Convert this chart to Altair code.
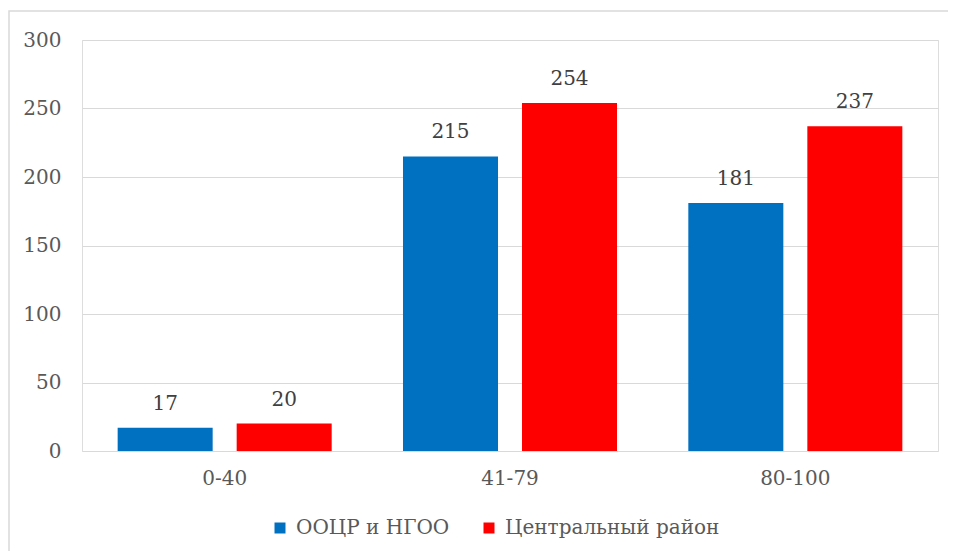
import altair as alt
import pandas as pd

categories = ["0-40", "41-79", "80-100"]
series_names = ["ООЦР и НГОО", "Центральный район"]
series_a = [17, 215, 181]
series_b = [20, 254, 237]
colors = ["#0070C0", "#FF0000"]
y_ticks = [0, 50, 100, 150, 200, 250, 300]

rows = []
for c, a, b in zip(categories, series_a, series_b):
    rows.append({"cat": c, "series": series_names[0], "value": a})
    rows.append({"cat": c, "series": series_names[1], "value": b})
df = pd.DataFrame(rows)

FONT = "DejaVu Serif"
FS = 20

x = alt.X("cat:N", sort=categories, title=None,
          scale=alt.Scale(paddingInner=0, paddingOuter=0),
          axis=alt.Axis(labelAngle=0, labelFont=FONT, labelFontSize=FS,
                        labelColor="#595959", ticks=False, domain=False,
                        labelPadding=17))
xo = alt.XOffset("series:N", sort=series_names,
                 scale=alt.Scale(paddingInner=0.2017, paddingOuter=0.2996))
y = alt.Y("value:Q", title=None,
          scale=alt.Scale(domain=[0, 300], nice=False),
          axis=alt.Axis(values=y_ticks, labelFont=FONT, labelFontSize=FS,
                        labelColor="#595959", ticks=False, domain=False,
                        gridColor="#D9D9D9", gridWidth=1, labelPadding=21))
color = alt.Color("series:N", sort=series_names,
                  scale=alt.Scale(domain=series_names, range=colors),
                  legend=alt.Legend(title=None, orient="none", direction="horizontal",
                                    legendX=188, legendY=478,
                                    symbolType="square", symbolSize=121,
                                    symbolStrokeWidth=0,
                                    labelFont=FONT, labelFontSize=FS,
                                    labelColor="#595959", labelOffset=6,
                                    labelLimit=0,
                                    columnPadding=29, symbolOpacity=1))

base = alt.Chart(df)
bars = base.mark_bar().encode(x=x, xOffset=xo, y=y, color=color)
labels = base.mark_text(baseline="bottom", dy=-14, font=FONT, fontSize=FS,
                        color="#404040").encode(
    x=alt.X("cat:N", sort=categories), xOffset=xo,
    y="value:Q", text="value:Q")

border = alt.Chart(pd.DataFrame({"k": [0]})).mark_rect(
    fill=None, stroke="#D9D9D9", strokeWidth=1.5).encode(
    x=alt.value(-73), x2=alt.value(873), y=alt.value(-29), y2=alt.value(530))

chart = alt.layer(border, bars, labels).properties(
    width=856, height=411,
    autosize=alt.AutoSizeParams(type="none"),
    padding={"left": 74, "top": 32, "right": 10, "bottom": 100},
).configure_view(stroke=None).configure(background="white")

chart.save("out.html", embed_options={"renderer": "svg", "actions": False})
